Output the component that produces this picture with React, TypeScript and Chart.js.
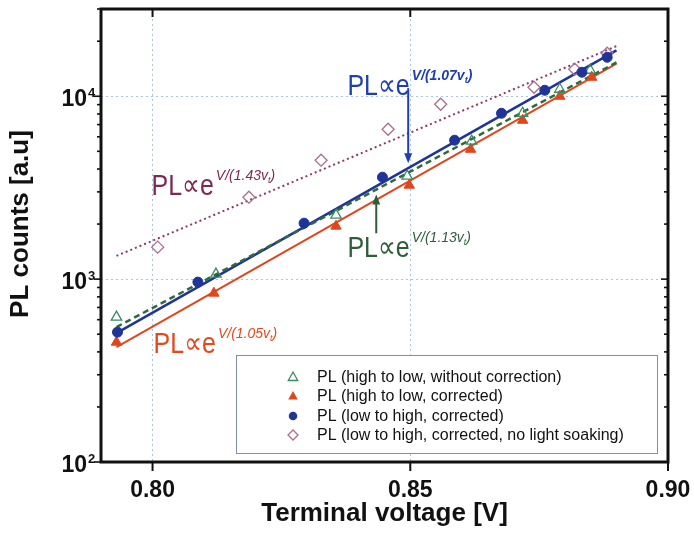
import React, { useEffect, useRef } from 'react';
import { Chart, registerables } from 'chart.js';
Chart.register(...registerables);

// ---- data ----
const xTicks = [0.8, 0.85, 0.9];
const yMajor = [100, 1000, 10000];
const yTickLabels = [['10', '2'], ['10', '3'], ['10', '4']];

const greenOpenX = [0.793, 0.8123, 0.8356, 0.8494, 0.8619, 0.8718, 0.879, 0.8849];
const greenOpenY = [620, 1065, 2237, 3655, 5680, 8070, 10920, 13870];
const redX = [0.793, 0.8119, 0.8356, 0.8498, 0.8617, 0.8718, 0.879, 0.8852];
const redY = [452, 838, 1949, 3263, 5130, 7390, 10000, 12700];
const blueX = [0.7932, 0.8088, 0.8294, 0.8446, 0.8586, 0.8677, 0.8761, 0.8833, 0.8882];
const blueY = [513, 963, 2023, 3610, 5750, 8070, 10780, 13530, 16330];
const diamondX = [0.801, 0.8187, 0.8327, 0.8457, 0.8559, 0.874, 0.8819, 0.8882];
const diamondY = [1496, 2806, 4470, 6600, 9040, 11200, 14050, 17180];

const fitX = [0.793, 0.89];
const fitBlueY = [507, 17800];
const fitGreenY = [547, 15300];
const fitRedY = [425, 15100];
const fitPurpleY = [1340, 18800];

const legendLabels = [
  'PL (high to low, without correction)',
  'PL (high to low, corrected)',
  'PL (low to high, corrected)',
  'PL (low to high, corrected, no light soaking)',
];

const annoExp = ['1.07', '1.13', '1.43', '1.05'];
const annoX = [0.8378, 0.8378, 0.7998, 0.8002];
const annoY = [10120, 1318, 2877, 394];
const annoColor = ['#1f3fb0', '#2d5e3a', '#7a2a55', '#e2491c'];
const annoBold = [true, false, false, false];

const arrowX = [0.8496, 0.8434];
const arrowFromY = [11070, 1782];
const arrowToY = [4300, 2900];
const arrowColor = ['#1f3fb0', '#2d5e3a'];

const xTitle = 'Terminal voltage [V]';
const yTitle = 'PL counts [a.u]';

const C_BLUE = '#1f3399';
const C_RED = '#e0461e';
const C_GREEN = '#2e6b3a';
const C_GREEN_M = '#3a8a66';
const C_PURPLE = '#8a3a6a';
const C_DIAM = '#a8708e';

const pts = (xs: number[], ys: number[]) => xs.map((x, i) => ({ x, y: ys[i] }));

function drawMarker(ctx: CanvasRenderingContext2D, kind: string, x: number, y: number, r: number) {
  ctx.beginPath();
  if (kind === 'triOpen' || kind === 'triFill') {
    ctx.moveTo(x, y - r);
    ctx.lineTo(x + r * 0.95, y + r * 0.7);
    ctx.lineTo(x - r * 0.95, y + r * 0.7);
    ctx.closePath();
    if (kind === 'triFill') { ctx.fillStyle = C_RED; ctx.fill(); }
    else { ctx.strokeStyle = C_GREEN_M; ctx.lineWidth = 1.3; ctx.stroke(); }
  } else if (kind === 'circle') {
    ctx.arc(x, y, r * 0.85, 0, Math.PI * 2);
    ctx.fillStyle = C_BLUE; ctx.fill();
  } else {
    ctx.moveTo(x, y - r); ctx.lineTo(x + r, y); ctx.lineTo(x, y + r); ctx.lineTo(x - r, y); ctx.closePath();
    ctx.strokeStyle = C_DIAM; ctx.lineWidth = 1.3; ctx.stroke();
  }
}

const customPlugin = {
  id: 'custom',
  afterDraw(chart: any) {
    const ctx: CanvasRenderingContext2D = chart.ctx;
    const xs = chart.scales.x, ys = chart.scales.y;
    const { left, right, top, bottom } = chart.chartArea;
    ctx.save();
    const line = (x1: number, y1: number, x2: number, y2: number) => {
      ctx.beginPath(); ctx.moveTo(x1, y1); ctx.lineTo(x2, y2); ctx.stroke();
    };
    ctx.strokeStyle = '#111';
    ctx.lineWidth = 2;
    // x ticks
    for (const v of xTicks) {
      const px = xs.getPixelForValue(v);
      line(px, bottom, px, bottom + 9);
      line(px, top, px, top + 8);
    }
    // y ticks
    const yMax = ys.max;
    ctx.lineWidth = 1.6;
    for (const d of yMajor) {
      for (let m = 1; m <= 9; m++) {
        const v = d * m;
        if (v > yMax) break;
        const py = ys.getPixelForValue(v);
        const len = m === 1 ? 7 : 4;
        line(left - len, py, left, py);
        line(right - len, py, right, py);
      }
    }
    // frame
    ctx.lineWidth = 3;
    ctx.strokeRect(left, top, right - left, bottom - top);

    // tick labels
    ctx.fillStyle = '#111';
    ctx.font = "bold 23px 'Liberation Sans', Arial, sans-serif";
    ctx.textAlign = 'center';
    ctx.textBaseline = 'alphabetic';
    for (const v of xTicks) {
      ctx.fillText(v.toFixed(2), xs.getPixelForValue(v), 497);
    }
    yMajor.forEach((v, i) => {
      const py = ys.getPixelForValue(v);
      ctx.font = "bold 23px 'Liberation Sans', Arial, sans-serif";
      ctx.textAlign = 'right';
      ctx.fillText(yTickLabels[i][0], 87, py + 10);
      ctx.font = "bold 13px 'Liberation Sans', Arial, sans-serif";
      ctx.textAlign = 'left';
      ctx.fillText(yTickLabels[i][1], 88, py + 1);
    });

    // axis titles
    ctx.font = "bold 26px 'Liberation Sans', Arial, sans-serif";
    ctx.textAlign = 'center';
    ctx.fillText(xTitle, (left + right) / 2, 521);
    ctx.save();
    ctx.translate(28, 224);
    ctx.rotate(-Math.PI / 2);
    ctx.fillText(yTitle, 0, 0);
    ctx.restore();

    // legend
    const lx = 236, ly = 355, lw = 421, lh = 98;
    ctx.fillStyle = '#fff';
    ctx.fillRect(lx, ly, lw, lh);
    ctx.strokeStyle = '#8090a8';
    ctx.lineWidth = 1;
    ctx.strokeRect(lx + 0.5, ly + 0.5, lw, lh);
    const kinds = ['triOpen', 'triFill', 'circle', 'diamond'];
    const rowY = [377, 396, 416, 435];
    ctx.font = "16px 'Liberation Sans', Arial, sans-serif";
    ctx.textAlign = 'left';
    ctx.textBaseline = 'middle';
    legendLabels.forEach((t, i) => {
      drawMarker(ctx, kinds[i], 293, rowY[i], 5);
      ctx.fillStyle = '#111';
      ctx.fillText(t, 317, rowY[i] + 1);
    });

    // arrows
    arrowX.forEach((v, i) => {
      const px = xs.getPixelForValue(v);
      const y1 = ys.getPixelForValue(arrowFromY[i]);
      const y2 = ys.getPixelForValue(arrowToY[i]);
      const dir = y2 > y1 ? 1 : -1;
      ctx.strokeStyle = arrowColor[i];
      ctx.fillStyle = arrowColor[i];
      ctx.lineWidth = 2;
      line(px, y1, px, y2 - dir * 8);
      ctx.beginPath();
      ctx.moveTo(px, y2);
      ctx.lineTo(px - 4, y2 - dir * 10);
      ctx.lineTo(px + 4, y2 - dir * 10);
      ctx.closePath();
      ctx.fill();
    });

    // annotations
    ctx.textBaseline = 'alphabetic';
    ctx.textAlign = 'left';
    annoExp.forEach((e, i) => {
      const px = xs.getPixelForValue(annoX[i]);
      const py = ys.getPixelForValue(annoY[i]);
      ctx.fillStyle = annoColor[i];
      ctx.font = "25px 'Liberation Sans', Arial, 'DejaVu Sans', sans-serif";
      const w = ctx.measureText('PL\u221De').width;
      ctx.save();
      ctx.translate(px, py);
      ctx.scale(1, 1.2);
      ctx.fillText('PL\u221De', 0, 0);
      ctx.restore();
      const b = annoBold[i] ? 'bold ' : '';
      ctx.font = `italic ${b}14px 'Liberation Sans', Arial, sans-serif`;
      let sx = px + w + 2;
      const sy = py - 15;
      const s1 = `V/(${e}v`;
      ctx.fillText(s1, sx, sy);
      sx += ctx.measureText(s1).width;
      ctx.font = `italic ${b}9px 'Liberation Sans', Arial, sans-serif`;
      ctx.fillText('t', sx, sy + 3);
      sx += ctx.measureText('t').width;
      ctx.font = `italic ${b}14px 'Liberation Sans', Arial, sans-serif`;
      ctx.fillText(')', sx, sy);
    });
    ctx.restore();
  },
};

export default function App() {
  const ref = useRef<HTMLCanvasElement | null>(null);
  useEffect(() => {
    if (!ref.current) return;
    const chart = new Chart(ref.current, {
      type: 'scatter',
      data: {
        datasets: [
          {
            type: 'line', label: 'fitPurple', data: pts(fitX, fitPurpleY),
            borderColor: C_PURPLE, borderWidth: 2, borderDash: [2, 3], pointRadius: 0, fill: false, order: 10,
          } as any,
          {
            type: 'line', label: 'fitRed', data: pts(fitX, fitRedY),
            borderColor: C_RED, borderWidth: 2, pointRadius: 0, fill: false, order: 9,
          },
          {
            type: 'line', label: 'fitBlue', data: pts(fitX, fitBlueY),
            borderColor: C_BLUE, borderWidth: 2.5, pointRadius: 0, fill: false, order: 8,
          },
          {
            type: 'line', label: 'fitGreen', data: pts(fitX, fitGreenY),
            borderColor: C_GREEN, borderWidth: 2.5, borderDash: [6, 4], pointRadius: 0, fill: false, order: 7,
          },
          {
            label: legendLabels[3], data: pts(diamondX, diamondY), pointStyle: 'rectRot', pointRadius: 6,
            borderColor: C_DIAM, backgroundColor: 'rgba(255,255,255,0)', pointBorderWidth: 1.3, order: 4,
          },
          {
            label: legendLabels[1], data: pts(redX, redY), pointStyle: 'triangle', pointRadius: 6,
            borderColor: C_RED, backgroundColor: C_RED, pointBorderWidth: 1, order: 3,
          },
          {
            label: legendLabels[0], data: pts(greenOpenX, greenOpenY), pointStyle: 'triangle', pointRadius: 6,
            borderColor: C_GREEN_M, backgroundColor: 'rgba(255,255,255,0)', pointBorderWidth: 1.3, order: 2,
          },
          {
            label: legendLabels[2], data: pts(blueX, blueY), pointStyle: 'circle', pointRadius: 5,
            borderColor: C_BLUE, backgroundColor: C_BLUE, pointBorderWidth: 1, order: 1,
          },
        ],
      },
      options: {
        responsive: false,
        animation: false,
        layout: { padding: { left: 0, right: 26, top: 9, bottom: 0 } },
        plugins: { legend: { display: false }, tooltip: { enabled: false } },
        scales: {
          x: {
            type: 'linear', min: 0.79, max: 0.9,
            afterBuildTicks: (s: any) => { s.ticks = xTicks.map((v) => ({ value: v })); },
            afterFit: (s: any) => { s.height = 85; },
            ticks: { display: false },
            border: { display: false, dash: [2, 3] },
            grid: { color: '#a9c3e3', lineWidth: 1, drawTicks: false } as any,
          },
          y: {
            type: 'logarithmic', min: 100, max: 30000,
            afterBuildTicks: (s: any) => { s.ticks = yMajor.map((v) => ({ value: v })); },
            afterFit: (s: any) => { s.width = 101; },
            ticks: { display: false },
            border: { display: false, dash: [2, 3] },
            grid: { color: '#a9c3e3', lineWidth: 1, drawTicks: false } as any,
          },
        },
      },
      plugins: [customPlugin],
    } as any);
    return () => chart.destroy();
  }, []);
  return (
    <div style={{ position: 'fixed', left: 0, top: 0, width: 694, height: 547, background: '#fff' }}>
      <canvas ref={ref} width={694} height={547} style={{ width: 694, height: 547, display: 'block' }} />
    </div>
  );
}
